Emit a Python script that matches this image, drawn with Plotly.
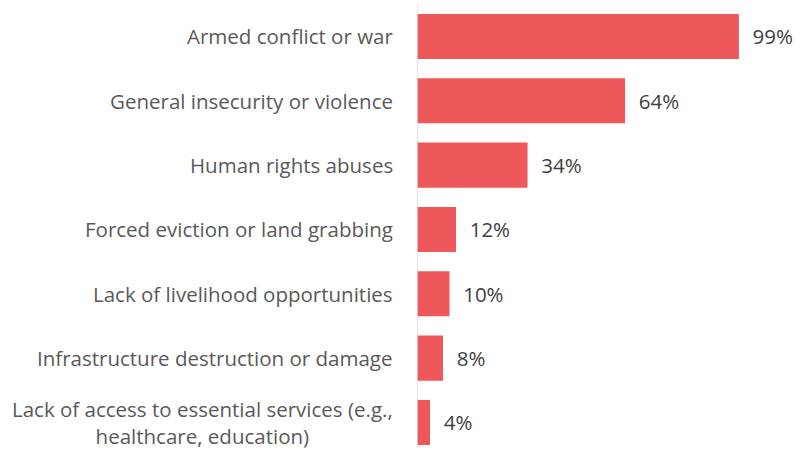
import plotly.graph_objects as go

categories = [
    "Armed conflict or war",
    "General insecurity or violence",
    "Human rights abuses",
    "Forced eviction or land grabbing",
    "Lack of livelihood opportunities",
    "Infrastructure destruction or damage",
    "Lack of access to essential services (e.g.,<br>healthcare, education)",
]
values = [99, 64, 34, 12, 10, 8, 4]
value_labels = [f"{v}%" for v in values]

BAR_COLOR = "#EF585A"
LABEL_COLOR = "#595959"
VALUE_COLOR = "#404040"
FONT = "Open Sans, Noto Sans, sans-serif"

positions = list(range(len(categories)))

fig = go.Figure(
    go.Bar(
        x=values,
        y=positions,
        orientation="h",
        marker=dict(color=BAR_COLOR, line=dict(width=0)),
        width=0.7,
        text=["  " + t for t in value_labels],
        textposition="outside",
        textfont=dict(family=FONT, size=20.5, color=VALUE_COLOR),
        cliponaxis=False,
        hoverinfo="skip",
    )
)

# Category labels as centred multi-line annotations to the left of the axis
for pos, cat in zip(positions, categories):
    fig.add_annotation(
        x=0, xref="paper", y=pos, yref="y",
        text=cat, showarrow=False,
        xanchor="right", yanchor="middle", align="center",
        xshift=-22,
        font=dict(family=FONT, size=20.5, color=LABEL_COLOR),
    )

# Vertical baseline
fig.add_shape(
    type="line", xref="x", yref="y",
    x0=0, x1=0, y0=-0.5, y1=6.4,
    line=dict(color="#D9D9D9", width=1.5),
)

fig.update_layout(
    width=800, height=450,
    margin=dict(l=417, r=0, t=0, b=0),
    paper_bgcolor="white", plot_bgcolor="white",
    showlegend=False,
    bargap=0.3,
    xaxis=dict(range=[0, 117.8], visible=False, fixedrange=True),
    yaxis=dict(range=[6.428, -0.567], visible=False, fixedrange=True),
)

fig.write_html("out.html")
